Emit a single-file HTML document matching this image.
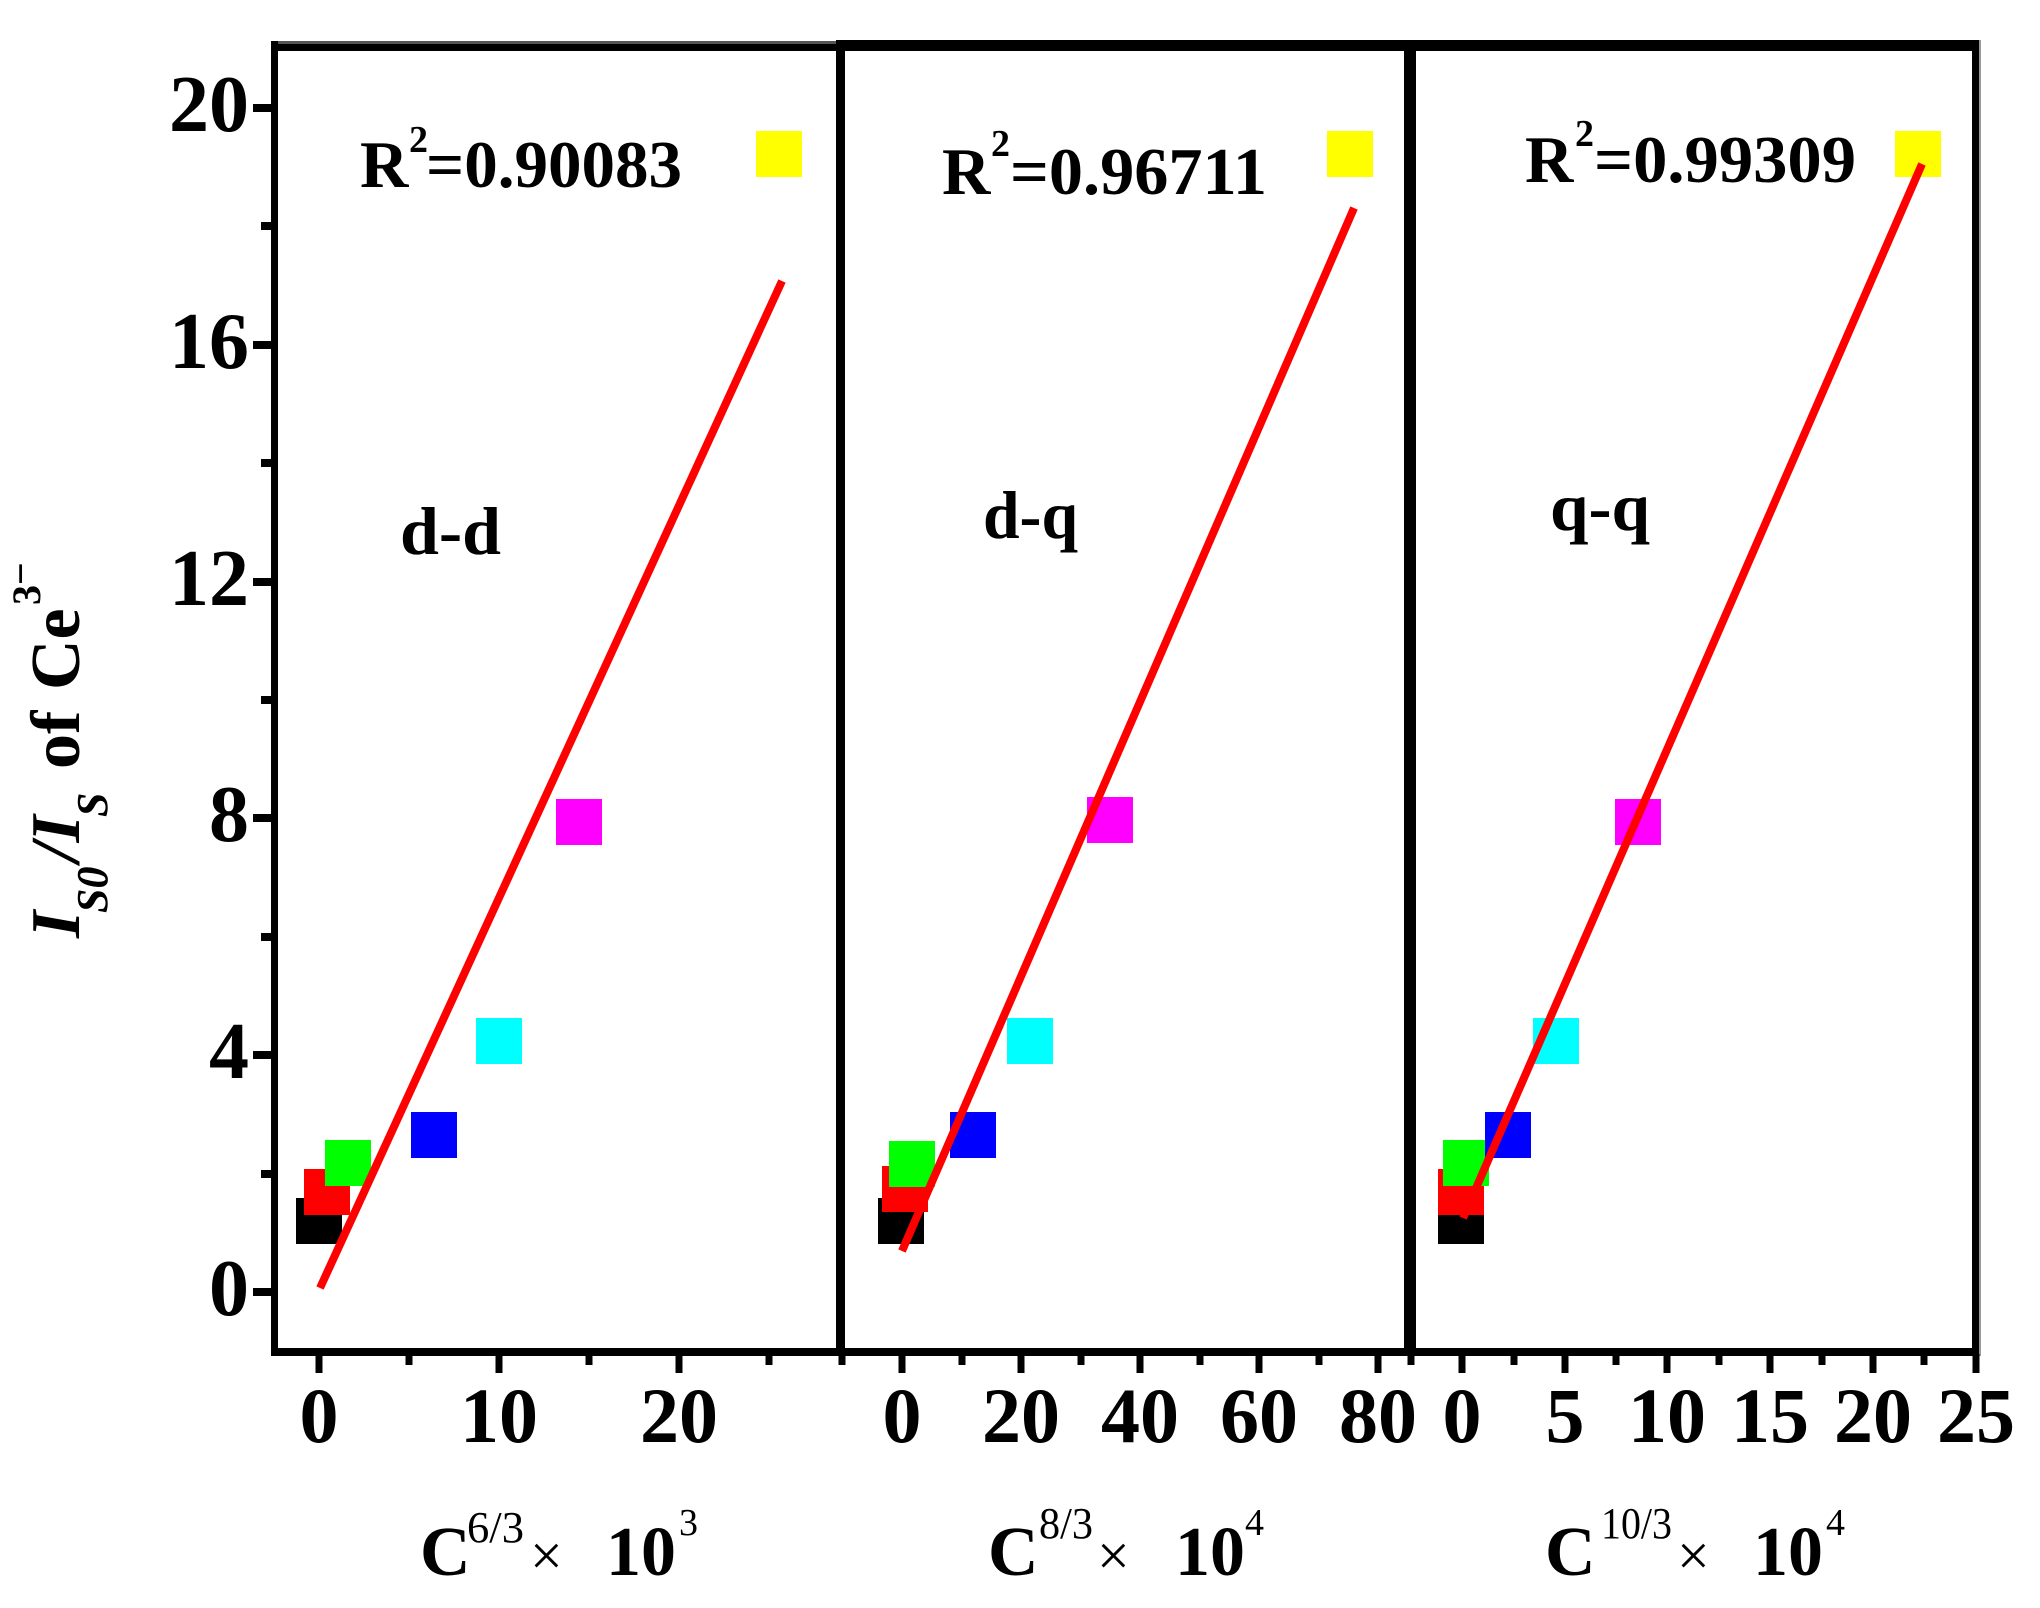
<!DOCTYPE html>
<html><head><meta charset="utf-8"><style>
html,body{margin:0;padding:0;background:#fff;}
svg{display:block;}
text{font-family:"Liberation Serif","DejaVu Serif",serif;}
</style></head><body>
<svg width="2040" height="1608" viewBox="0 0 2040 1608" xmlns="http://www.w3.org/2000/svg">
<rect width="2040" height="1608" fill="#fff"/>

<!-- Panel 1 squares -->
<rect x="296" y="1198" width="46" height="46" fill="#000"/>
<rect x="304" y="1169" width="46" height="46" fill="#ff0000"/>
<rect x="325" y="1140" width="46" height="46" fill="#00ff00"/>
<rect x="411" y="1112" width="46" height="46" fill="#0000ff"/>
<rect x="476" y="1018" width="46" height="46" fill="#00ffff"/>
<rect x="556" y="799" width="46" height="46" fill="#ff00ff"/>
<rect x="756" y="131" width="46" height="46" fill="#ffff00"/>
<!-- Panel 2 squares -->
<rect x="878" y="1198" width="46" height="46" fill="#000"/>
<rect x="882" y="1166" width="46" height="46" fill="#ff0000"/>
<rect x="889" y="1141" width="46" height="46" fill="#00ff00"/>
<rect x="950" y="1112" width="46" height="46" fill="#0000ff"/>
<rect x="1007" y="1018" width="46" height="46" fill="#00ffff"/>
<rect x="1087" y="797" width="46" height="46" fill="#ff00ff"/>
<rect x="1327" y="131" width="46" height="46" fill="#ffff00"/>
<!-- Panel 3 squares -->
<rect x="1438" y="1198" width="46" height="46" fill="#000"/>
<rect x="1438" y="1169" width="46" height="46" fill="#ff0000"/>
<rect x="1443" y="1140" width="46" height="46" fill="#00ff00"/>
<rect x="1485" y="1112" width="46" height="46" fill="#0000ff"/>
<rect x="1533" y="1018" width="46" height="46" fill="#00ffff"/>
<rect x="1615" y="799" width="46" height="46" fill="#ff00ff"/>
<rect x="1895" y="131" width="46" height="46" fill="#ffff00"/>

<!-- Fit lines -->
<line x1="320" y1="1288" x2="782" y2="281" stroke="#ff0000" stroke-width="8"/>
<line x1="902" y1="1251" x2="1354" y2="208" stroke="#ff0000" stroke-width="8"/>
<line x1="1463" y1="1218" x2="1922" y2="164" stroke="#ff0000" stroke-width="8"/>

<!-- Frame -->
<rect x="271" y="41" width="570" height="3" fill="#555"/>
<rect x="271" y="44" width="570" height="7" fill="#000"/>
<rect x="836" y="40" width="1143" height="11" fill="#000"/>
<rect x="271" y="41" width="7" height="1315" fill="#000"/>
<rect x="836" y="40" width="9" height="1316" fill="#000"/>
<rect x="1404" y="40" width="12" height="1316" fill="#000"/>
<rect x="1972" y="40" width="7" height="1316" fill="#000"/>
<rect x="1979" y="40" width="2" height="1316" fill="#999"/>
<rect x="271" y="1348" width="1708" height="8" fill="#000"/>

<!-- Y ticks -->
<g fill="#000">
<rect x="253" y="104" width="20" height="8"/>
<rect x="253" y="341" width="20" height="8"/>
<rect x="253" y="578" width="20" height="8"/>
<rect x="253" y="814" width="20" height="8"/>
<rect x="253" y="1051" width="20" height="8"/>
<rect x="253" y="1288" width="20" height="8"/>
<rect x="261" y="222" width="12" height="8"/>
<rect x="261" y="459" width="12" height="8"/>
<rect x="261" y="696" width="12" height="8"/>
<rect x="261" y="933" width="12" height="8"/>
<rect x="261" y="1170" width="12" height="8"/>
</g>

<!-- X ticks -->
<g fill="#000">
<rect x="315.5" y="1354" width="7" height="19"/>
<rect x="495.5" y="1354" width="7" height="19"/>
<rect x="675.5" y="1354" width="7" height="19"/>
<rect x="405.5" y="1354" width="7" height="11"/>
<rect x="585.5" y="1354" width="7" height="11"/>
<rect x="765.5" y="1354" width="7" height="11"/>

<rect x="898.5" y="1354" width="7" height="19"/>
<rect x="1017.5" y="1354" width="7" height="19"/>
<rect x="1136.5" y="1354" width="7" height="19"/>
<rect x="1255.5" y="1354" width="7" height="19"/>
<rect x="1374.5" y="1354" width="7" height="19"/>
<rect x="838.5" y="1354" width="7" height="11"/>
<rect x="958.5" y="1354" width="7" height="11"/>
<rect x="1077.5" y="1354" width="7" height="11"/>
<rect x="1196.5" y="1354" width="7" height="11"/>
<rect x="1315.5" y="1354" width="7" height="11"/>

<rect x="1458.5" y="1354" width="7" height="19"/>
<rect x="1561.5" y="1354" width="7" height="19"/>
<rect x="1663.5" y="1354" width="7" height="19"/>
<rect x="1766.5" y="1354" width="7" height="19"/>
<rect x="1869.5" y="1354" width="7" height="19"/>
<rect x="1972.5" y="1354" width="7" height="19"/>
<rect x="1407.5" y="1354" width="7" height="11"/>
<rect x="1510.5" y="1354" width="7" height="11"/>
<rect x="1612.5" y="1354" width="7" height="11"/>
<rect x="1715.5" y="1354" width="7" height="11"/>
<rect x="1818.5" y="1354" width="7" height="11"/>
<rect x="1920.5" y="1354" width="7" height="11"/>
</g>

<!-- Y tick labels -->
<g font-weight="bold" font-size="80" text-anchor="end" fill="#000">
<text x="249" y="131">20</text>
<text x="249" y="368">16</text>
<text x="249" y="605">12</text>
<text x="249" y="841">8</text>
<text x="249" y="1078">4</text>
<text x="249" y="1315">0</text>
</g>

<!-- X tick labels -->
<g font-weight="bold" font-size="78" text-anchor="middle" fill="#000">
<text x="319" y="1442">0</text>
<text x="499" y="1442">10</text>
<text x="679" y="1442">20</text>
<text x="902" y="1442">0</text>
<text x="1021" y="1442">20</text>
<text x="1140" y="1442">40</text>
<text x="1259" y="1442">60</text>
<text x="1378" y="1442">80</text>
<text x="1462" y="1442">0</text>
<text x="1565" y="1442">5</text>
<text x="1667" y="1442">10</text>
<text x="1770" y="1442">15</text>
<text x="1873" y="1442">20</text>
<text x="1976" y="1442">25</text>
</g>

<!-- R^2 labels -->
<g font-weight="bold" fill="#000">
<text x="360" y="187" font-size="67">R</text>
<text x="409" y="152" font-size="38">2</text>
<text x="426" y="187" font-size="67" textLength="256" lengthAdjust="spacingAndGlyphs">=0.90083</text>

<text x="942" y="194" font-size="67">R</text>
<text x="991" y="156" font-size="38">2</text>
<text x="1010" y="194" font-size="67" textLength="257" lengthAdjust="spacingAndGlyphs">=0.96711</text>

<text x="1525" y="182" font-size="67">R</text>
<text x="1575" y="146" font-size="38">2</text>
<text x="1594" y="182" font-size="67" textLength="262" lengthAdjust="spacingAndGlyphs">=0.99309</text>
</g>

<!-- Panel labels -->
<g font-weight="bold" font-size="68" fill="#000">
<text x="400" y="554" textLength="101" lengthAdjust="spacingAndGlyphs">d-d</text>
<text x="983" y="538" textLength="95" lengthAdjust="spacingAndGlyphs">d-q</text>
<text x="1550" y="530" textLength="100" lengthAdjust="spacingAndGlyphs">q-q</text>
</g>

<!-- X axis titles -->
<g fill="#000">
<text x="420" y="1575" font-size="70" font-weight="bold">C</text>
<text x="467" y="1542" font-size="44" textLength="57" lengthAdjust="spacingAndGlyphs">6/3</text>
<text x="530" y="1575" font-size="58">×</text>
<text x="606" y="1575" font-size="70" font-weight="bold">10</text>
<text x="679" y="1535" font-size="38">3</text>

<text x="988" y="1575" font-size="70" font-weight="bold">C</text>
<text x="1039" y="1538" font-size="44" textLength="54" lengthAdjust="spacingAndGlyphs">8/3</text>
<text x="1097" y="1575" font-size="58">×</text>
<text x="1175" y="1575" font-size="70" font-weight="bold">10</text>
<text x="1245" y="1535" font-size="38">4</text>

<text x="1545" y="1575" font-size="70" font-weight="bold">C</text>
<text x="1601" y="1538" font-size="44" textLength="71" lengthAdjust="spacingAndGlyphs">10/3</text>
<text x="1677" y="1575" font-size="58">×</text>
<text x="1753" y="1575" font-size="70" font-weight="bold">10</text>
<text x="1826" y="1535" font-size="38">4</text>
</g>

<!-- Y axis title (rotated) -->
<g transform="translate(79,938) rotate(-90)" fill="#000" font-weight="bold">
<text x="0" y="0" font-size="70" font-style="italic">I</text>
<text x="25" y="28" font-size="44" font-style="italic">S0</text>
<text x="76" y="0" font-size="70" font-style="italic">/I</text>
<text x="121" y="28" font-size="44" font-style="italic">S</text>
<text x="169" y="0" font-size="70">of</text>
<text x="248" y="0" font-size="70">Ce</text>
<text x="333" y="-39" font-size="40">3</text>
<text x="353" y="-45" font-size="40">−</text>
</g>
</svg>
</body></html>
